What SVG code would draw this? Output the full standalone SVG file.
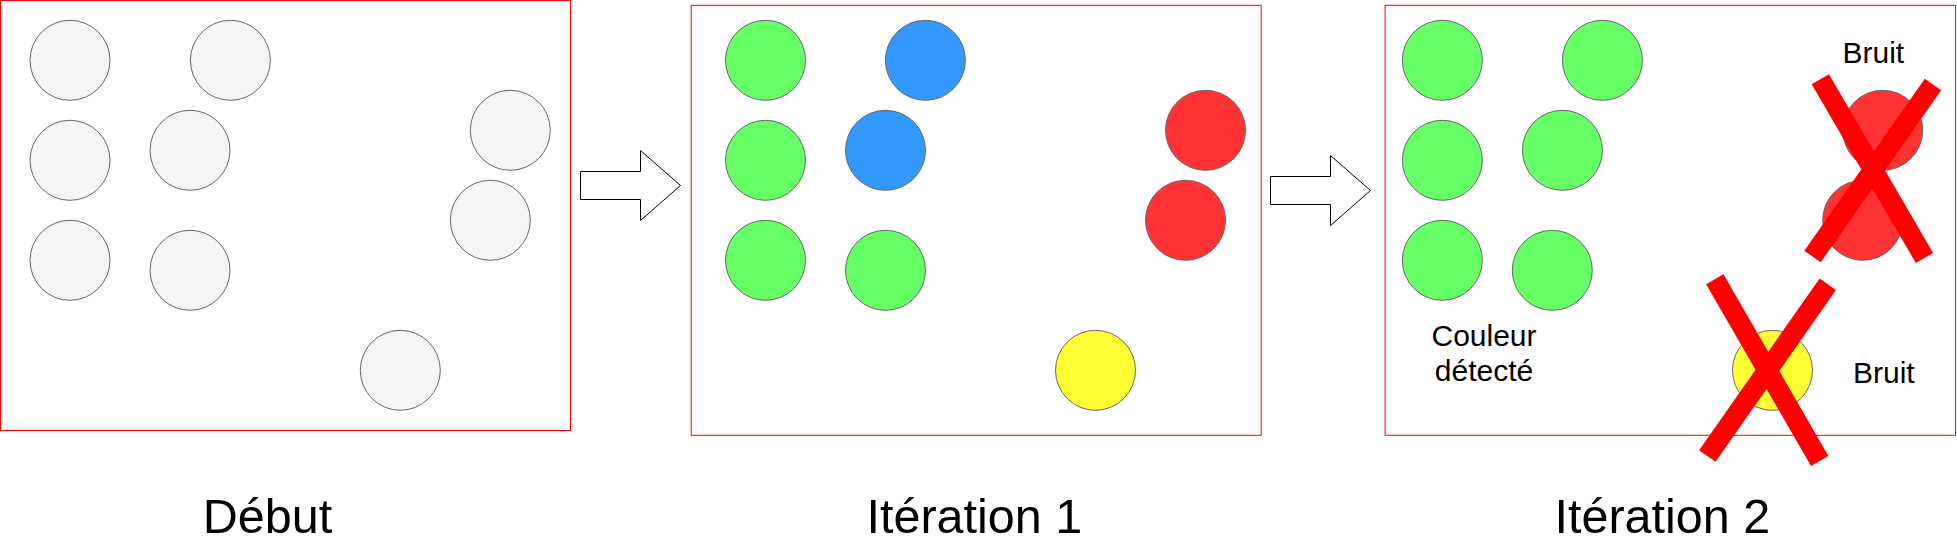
<svg xmlns="http://www.w3.org/2000/svg" width="1957" height="540" viewBox="0 0 1957 540">
<style>
.frame{fill:#ffffff;stroke:#ff0000;stroke-width:1}
.c{stroke:#666666;stroke-width:1}
.gray{fill:#f5f5f5}
.green{fill:#66ff66}
.blue{fill:#3399ff}
.red{fill:#ff3333}
.yellow{fill:#ffff33}
.arrow{fill:#ffffff;stroke:#000000;stroke-width:1}
.cross{stroke:#ff0000;stroke-width:20;stroke-linecap:butt;fill:none}
text{font-family:"Liberation Sans",Arial,Helvetica,sans-serif;fill:#000000;text-anchor:middle}
.lbl{font-size:30px}
.cap{font-size:48.5px}
</style>
<rect width="1957" height="540" fill="#ffffff"/>
<g id="panel-debut">
<rect class="frame" x="0.5" y="0.5" width="570" height="430"/>
<circle class="c gray" cx="70" cy="60.3" r="40"/>
<circle class="c gray" cx="230.4" cy="60.3" r="40"/>
<circle class="c gray" cx="70" cy="160.3" r="40"/>
<circle class="c gray" cx="190" cy="150.3" r="40"/>
<circle class="c gray" cx="70" cy="260.3" r="40"/>
<circle class="c gray" cx="190" cy="270.3" r="40"/>
<circle class="c gray" cx="510.3" cy="130.3" r="40"/>
<circle class="c gray" cx="490.3" cy="220.3" r="40"/>
<circle class="c gray" cx="400.3" cy="370.3" r="40"/>
</g>
<g id="panel-iter1">
<rect class="frame" x="691.2" y="5.3" width="570" height="430"/>
<circle class="c green" cx="765.5" cy="60.3" r="40"/>
<circle class="c blue" cx="925.4" cy="60.3" r="40"/>
<circle class="c green" cx="765.5" cy="160.3" r="40"/>
<circle class="c blue" cx="885.5" cy="150.3" r="40"/>
<circle class="c green" cx="765.5" cy="260.3" r="40"/>
<circle class="c green" cx="885.5" cy="270.3" r="40"/>
<circle class="c red" cx="1205.5" cy="130.3" r="40"/>
<circle class="c red" cx="1185.5" cy="220.3" r="40"/>
<circle class="c yellow" cx="1095.5" cy="370.3" r="40"/>
</g>
<g id="panel-iter2">
<rect class="frame" x="1385.1" y="5.3" width="570.4" height="430"/>
<circle class="c green" cx="1442.3" cy="60.3" r="40"/>
<circle class="c green" cx="1602.4" cy="60.3" r="40"/>
<circle class="c green" cx="1442.3" cy="160.3" r="40"/>
<circle class="c green" cx="1562.4" cy="150.3" r="40"/>
<circle class="c green" cx="1442.3" cy="260.3" r="40"/>
<circle class="c green" cx="1552.3" cy="270.3" r="40"/>
<circle class="c red" cx="1882.7" cy="130.3" r="40"/>
<circle class="c red" cx="1862.7" cy="220.3" r="40"/>
<circle class="c yellow" cx="1772.5" cy="370.3" r="40"/>
<text class="lbl" x="1484" y="346">Couleur</text>
<text class="lbl" x="1484" y="381">détecté</text>
<text class="lbl" x="1873.3" y="63.3">Bruit</text>
<text class="lbl" x="1883.8" y="383.3">Bruit</text>
</g>
<g id="cross-red">
<line class="cross" x1="1820.3" y1="79.3" x2="1924.5" y2="258"/>
<line class="cross" x1="1933" y1="84.5" x2="1812.5" y2="256.5"/>
</g>
<g id="cross-yellow">
<line class="cross" x1="1714.8" y1="279.2" x2="1819.7" y2="461"/>
<line class="cross" x1="1827.8" y1="284.3" x2="1707.3" y2="456"/>
</g>
<g id="connectors">
<polygon class="arrow" points="580.5,171.5 640.5,171.5 640.5,150.5 680.5,185.5 640.5,220.5 640.5,199.5 580.5,199.5"/>
<polygon class="arrow" points="1270.5,176.5 1330.5,176.5 1330.5,155.5 1370.5,190.5 1330.5,225.5 1330.5,204.5 1270.5,204.5"/>
</g>
<g id="captions">
<text class="cap" x="267.5" y="532.7">Début</text>
<text class="cap" x="974.4" y="532.7">Itération 1</text>
<text class="cap" x="1662.4" y="532.7">Itération 2</text>
</g>
</svg>
